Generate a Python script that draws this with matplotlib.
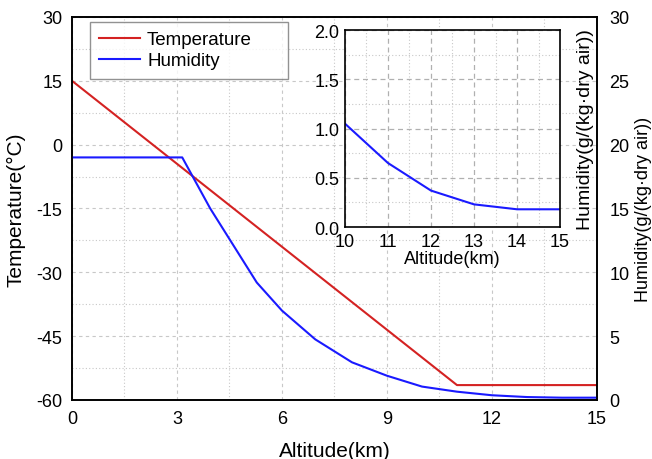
import numpy as np
import matplotlib
matplotlib.use('Agg')
import matplotlib.pyplot as plt
from matplotlib.ticker import MultipleLocator

plt.rcParams['font.family'] = ['Liberation Sans', 'DejaVu Sans']
plt.rcParams['axes.unicode_minus'] = False

# data
alt_t = [0, 11, 15]
temp = [15, -56.5, -56.5]

alt_h = [0, 3.15, 3.95, 5.28, 6.0, 6.95, 8, 9, 10, 11, 12, 13, 14, 15]
hum = [19, 19, 15, 9.2, 7.0, 4.75, 2.95, 1.9, 1.05, 0.65, 0.37, 0.23, 0.18, 0.18]

red = '#d42222'
blue = '#1a1aff'
gcol = '#c8c8c8'

fig = plt.figure(figsize=(6.52, 4.6), dpi=100)
ax = fig.add_axes([0.1104, 0.1283, 0.8052, 0.8326])
l1, = ax.plot(alt_t, temp, color=red, lw=1.5, label='Temperature')
ax.set_xlim(0, 15); ax.set_ylim(-60, 30)
ax.xaxis.set_major_locator(MultipleLocator(3)); ax.xaxis.set_minor_locator(MultipleLocator(1.5))
ax.yaxis.set_major_locator(MultipleLocator(15)); ax.yaxis.set_minor_locator(MultipleLocator(7.5))
ax.grid(which='major', color=gcol, ls=(0, (3, 3)), lw=0.8)
ax.grid(which='minor', color=gcol, ls=(0, (1, 2)), lw=0.8)
ax.tick_params(which='both', length=0, labelsize=13, pad=7)
ax.set_xlabel('Altitude(km)', fontsize=15, labelpad=10)
ax.set_ylabel('Temperature(°C)', fontsize=15, labelpad=8)

ax2 = ax.twinx()
l2, = ax2.plot(alt_h, hum, color=blue, lw=1.5, label='Humidity')
ax2.set_ylim(0, 30)
ax2.yaxis.set_major_locator(MultipleLocator(5))
ax2.tick_params(length=0, labelsize=13, pad=9)
ax2.set_ylabel('Humidity(g/(kg·dry air))', fontsize=13, labelpad=4)
for a in (ax, ax2):
    for s in a.spines.values():
        s.set_linewidth(1.2)

leg = ax.legend(handles=[l1, l2], loc='upper left',
                bbox_to_anchor=(0.034, 0.843, 0.377, 0.144), mode='expand',
                borderaxespad=0, fontsize=13.5, fancybox=False, edgecolor='#777777',
                handlelength=2.2, borderpad=0.5, labelspacing=0.2,
                handletextpad=0.35)
leg.get_frame().set_linewidth(1.0)
leg.set_zorder(5)

# inset
axi = fig.add_axes([0.529, 0.5043, 0.33, 0.4283])
axi.plot(alt_h, hum, color=blue, lw=1.5)
axi.set_xlim(10, 15); axi.set_ylim(0, 2)
axi.xaxis.set_major_locator(MultipleLocator(1)); axi.xaxis.set_minor_locator(MultipleLocator(0.5))
axi.yaxis.set_major_locator(MultipleLocator(0.5)); axi.yaxis.set_minor_locator(MultipleLocator(0.25))
axi.grid(which='major', color='#b0b0b0', ls=(0, (4, 3)), lw=0.9)
axi.grid(which='minor', color=gcol, ls=(0, (1, 2)), lw=0.8)
axi.tick_params(which='both', length=0, labelsize=13, pad=4)
axi.set_xlabel('Altitude(km)', fontsize=13, labelpad=0)
axi.yaxis.set_label_position('right')
axi.set_ylabel('Humidity(g/(kg·dry air))', fontsize=14, labelpad=12)
for s in axi.spines.values():
    s.set_linewidth(1.2)

fig.savefig('out.png', dpi=100)
